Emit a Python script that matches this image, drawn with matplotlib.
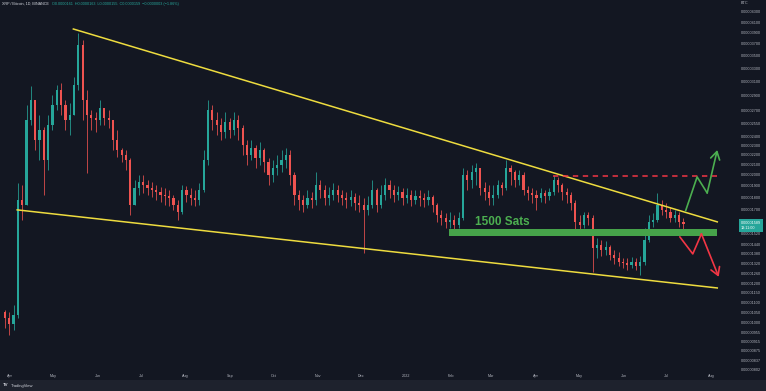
import numpy as np
import matplotlib
matplotlib.use("Agg")
import matplotlib.pyplot as plt
import matplotlib.dates as mdates
from matplotlib.ticker import FixedLocator, FixedFormatter, NullLocator
from matplotlib.patches import Rectangle

plt.rcParams['font.family'] = ['Liberation Sans', 'DejaVu Sans']

# ---------------- data (prices in satoshis, 3-day candles) ----------------
candle_start = "2021-03-27"
candle_days = 3
first_open = 1050
closes = [
    1021, 994, 1036, 1778, 1737, 2589, 2843, 2357, 2470, 2145,
    2528, 2777, 2980, 2777, 2589, 2650, 3051, 3681, 2843, 2650,
    2613, 2589, 2739, 2613, 2589, 2357, 2248, 2196, 2145, 1737,
    1882, 1935, 1908, 1882, 1864, 1846, 1820, 1812, 1795, 1737,
    1681, 1864, 1820, 1795, 1778, 1864, 2145, 2713, 2589, 2528,
    2447, 2565, 2470, 2589, 2493, 2302, 2196, 2270, 2165, 2248,
    2125, 1999, 2066, 2096, 2145, 2196, 1999, 1820, 1778, 1737,
    1795, 1778, 1908, 1864, 1795, 1820, 1864, 1820, 1795, 1778,
    1803, 1753, 1737, 1697, 1737, 1864, 1737, 1820, 1908, 1864,
    1820, 1846, 1795, 1820, 1778, 1812, 1795, 1778, 1803, 1737,
    1657, 1634, 1604, 1619, 1581, 1634, 1999, 1953, 2028, 2066,
    1882, 1846, 1795, 1820, 1908, 1882, 2066, 2028, 1953, 1999,
    1864, 1837, 1820, 1795, 1837, 1812, 1846, 1953, 1908, 1846,
    1820, 1753, 1604, 1581, 1657, 1634, 1419, 1439, 1406, 1426,
    1373, 1354, 1329, 1323, 1310, 1329, 1304, 1329, 1474, 1604,
    1619, 1737, 1697, 1681, 1634, 1657, 1604, 1589,
]
highs = [
    1061, 1051, 1086, 1926, 1908, 2777, 3037, 2777, 2650, 2505,
    2650, 2911, 3051, 3080, 2843, 2803, 3168, 3895, 3769, 2980,
    2713, 2688, 2843, 2739, 2713, 2528, 2470, 2270, 2248, 2165,
    1953, 1999, 1999, 1953, 1935, 1908, 1890, 1882, 1864, 1820,
    1778, 1908, 1899, 1882, 1864, 1926, 2248, 2843, 2777, 2688,
    2613, 2688, 2613, 2688, 2650, 2528, 2357, 2357, 2302, 2335,
    2270, 2165, 2145, 2196, 2248, 2270, 2248, 2028, 1864, 1820,
    1864, 1846, 2028, 1953, 1908, 1890, 1926, 1908, 1864, 1846,
    1864, 1837, 1820, 1795, 1812, 1953, 1882, 1908, 1971, 1953,
    1908, 1899, 1882, 1882, 1864, 1864, 1864, 1837, 1864, 1820,
    1753, 1697, 1673, 1681, 1657, 1681, 2066, 2047, 2096, 2116,
    2047, 1935, 1908, 1908, 1953, 1935, 2145, 2096, 2047, 2047,
    2028, 1899, 1882, 1864, 1882, 1864, 1882, 1999, 1981, 1926,
    1882, 1846, 1778, 1657, 1681, 1681, 1657, 1488, 1474, 1467,
    1439, 1406, 1393, 1354, 1354, 1361, 1354, 1367, 1559, 1657,
    1673, 1837, 1778, 1753, 1721, 1697, 1681, 1634,
]
lows = [
    975, 943, 966, 1021, 1619, 1737, 2528, 2248, 2145, 1820,
    2047, 2470, 2713, 2650, 2470, 2413, 2650, 2980, 2589, 2018,
    2470, 2447, 2528, 2528, 2493, 2248, 2176, 2125, 2047, 1657,
    1778, 1820, 1837, 1820, 1803, 1778, 1761, 1737, 1729, 1697,
    1619, 1665, 1761, 1737, 1729, 1737, 1846, 2096, 2470, 2413,
    2357, 2379, 2379, 2413, 2357, 2196, 2096, 2145, 2066, 2096,
    2028, 1908, 1935, 1999, 2028, 2066, 1908, 1737, 1697, 1681,
    1713, 1713, 1737, 1795, 1737, 1737, 1778, 1761, 1737, 1713,
    1729, 1697, 1681, 1386, 1657, 1713, 1681, 1713, 1778, 1795,
    1761, 1778, 1737, 1753, 1729, 1745, 1729, 1721, 1737, 1681,
    1604, 1581, 1559, 1559, 1544, 1559, 1619, 1864, 1882, 1908,
    1820, 1778, 1737, 1737, 1795, 1820, 1864, 1908, 1890, 1908,
    1820, 1778, 1753, 1697, 1761, 1753, 1778, 1820, 1846, 1778,
    1753, 1697, 1509, 1530, 1559, 1581, 1268, 1354, 1367, 1373,
    1342, 1316, 1304, 1292, 1280, 1292, 1280, 1250, 1310, 1460,
    1566, 1604, 1657, 1634, 1604, 1604, 1566, 1544,
]

month_ticks = ["2021-04-01", "2021-05-01", "2021-06-01", "2021-07-01", "2021-08-01",
               "2021-09-01", "2021-10-01", "2021-11-01", "2021-12-01", "2022-01-01",
               "2022-02-01", "2022-03-01", "2022-04-01", "2022-05-01", "2022-06-01",
               "2022-07-01", "2022-08-01"]
month_labels = ["Apr", "May", "Jun", "Jul", "Aug", "Sep", "Oct", "Nov", "Dec", "2022",
                "Feb", "Mar", "Apr", "May", "Jun", "Jul", "Aug"]
price_ticks = [4300, 4100, 3900, 3700, 3500, 3300, 3100, 2900, 2700, 2550, 2400, 2300,
               2200, 2100, 2000, 1900, 1800, 1700, 1520, 1440, 1380, 1320, 1260, 1200,
               1150, 1100, 1050, 1000, 955, 915, 875, 837, 802]

# drawings
upper_tl_dates = ["2021-05-15", "2022-08-05"]
upper_tl_sats = [3968, 1604]
lower_tl_dates = ["2021-04-06", "2022-08-05"]
lower_tl_sats = [1697, 1176]
resist_dates = ["2022-04-13", "2022-08-05"]
resist_sats = 1990
band_dates = ["2022-01-31", "2022-08-05"]
band_sats = [1502, 1551]
label_date = "2022-02-18"
label_sats = 1600
green_path_dates = ["2022-07-14", "2022-07-22", "2022-07-29", "2022-08-05"]
green_path_sats = [1689, 1981, 1837, 2248]
red_path_dates = ["2022-07-10", "2022-07-19", "2022-07-25", "2022-08-06"]
red_path_sats = [1495, 1380, 1516, 1239]

# ---------------- styling ----------------
BG = "#131722"
UP = "#26a69a"
DN = "#ef5350"
YEL = "#eedc3f"
TXT = "#b2b5be"
SAT = 1e-8
W, H = 766, 391


def dn(s):
    return mdates.date2num(np.array(s, dtype="datetime64[h]"))


c = np.asarray(closes, float) * SAT
o = np.r_[first_open, closes[:-1]].astype(float) * SAT
h = np.maximum(np.asarray(highs, float) * SAT, np.maximum(o, c))
l = np.minimum(np.asarray(lows, float) * SAT, np.minimum(o, c))
start = np.datetime64(candle_start)
dates = start + np.arange(len(closes)) * candle_days
x = mdates.date2num(dates.astype("datetime64[h]")) + candle_days / 2

fig = plt.figure(figsize=(W / 100, H / 100), dpi=100, facecolor=BG)
ax = fig.add_axes([0, (H - 370) / H, 736 / W, 370 / H])
ax.set_facecolor(BG)
ax.set_yscale("log")
ax.set_ylim(800e-8, 4547e-8)
ax.set_xlim(dn("2021-03-25T02"), dn("2022-08-18T00"))
for s in ax.spines.values():
    s.set_visible(False)

cols = np.where(c >= o, UP, DN)
ax.vlines(x, l, h, colors=cols, linewidth=0.55, zorder=2)
top = np.maximum(o, c)
bot = np.minimum(o, c)
top = np.maximum(top, bot * 1.003)
ax.bar(x, top - bot, bottom=bot, width=candle_days * 0.5, color=cols, linewidth=0, zorder=3)

# trend lines
ax.plot(dn(upper_tl_dates), np.array(upper_tl_sats) * SAT, color=YEL, lw=1.1, zorder=5)
ax.plot(dn(lower_tl_dates), np.array(lower_tl_sats) * SAT, color=YEL, lw=1.1, zorder=5)
ax.plot(dn(resist_dates), [resist_sats * SAT] * 2, color="#f23645", lw=1.1,
        dashes=(3.5, 3), zorder=5)
bx = dn(band_dates)
ax.fill_between(bx, [band_sats[0] * SAT] * 2, [band_sats[1] * SAT] * 2,
                color="#46a34a", lw=0, zorder=4)
ax.text(dn(label_date), label_sats * SAT, "1500 Sats", color="#4caf50",
        fontsize=8.5, fontweight="bold", ha="left", va="center", zorder=6,
        family=["Liberation Sans", "DejaVu Sans"])


def draw_path(ds, ss, color):
    xs = dn(ds)
    ys = np.array(ss) * SAT
    ax.plot(xs[:-1], ys[:-1], color=color, lw=1.2, zorder=6, solid_capstyle="round")
    ax.annotate("", xy=(xs[-1], ys[-1]), xytext=(xs[-2], ys[-2]),
                arrowprops=dict(arrowstyle="->,head_length=0.5,head_width=0.3",
                                color=color, lw=1.2, shrinkA=0, shrinkB=0,
                                mutation_scale=11), zorder=6)


draw_path(green_path_dates, green_path_sats, "#4caf50")
draw_path(red_path_dates, red_path_sats, "#f23645")

# axes ticks
ax.xaxis.set_major_locator(FixedLocator(dn(month_ticks)))
ax.xaxis.set_major_formatter(FixedFormatter(month_labels))
ax.xaxis.set_minor_locator(NullLocator())
ax.tick_params(axis="x", length=0, pad=3.0, labelsize=2.7, labelcolor=TXT)
ax.yaxis.tick_right()
ax.yaxis.set_major_locator(FixedLocator([v * SAT for v in price_ticks]))
ax.yaxis.set_major_formatter(FixedFormatter([f"{v * SAT:.8f}" for v in price_ticks]))
ax.yaxis.set_minor_locator(NullLocator())
ax.yaxis.set_minor_formatter(FixedFormatter([]))
ax.tick_params(axis="y", length=0, pad=3.6, labelsize=2.7, labelcolor=TXT)

# current price label
ax.annotate(f"{c[-1]:.8f}\n13:11:00", xy=(1, c[-1]), xycoords=ax.get_yaxis_transform(),
            xytext=(3.6, 2.2), textcoords="offset points", va="top", ha="left",
            fontsize=2.7, color="white", linespacing=1.4,
            bbox=dict(boxstyle="square,pad=0.45", fc=UP, ec="none"), zorder=10,
            annotation_clip=False)

# header
fig.text(2 / W, 1 - 4 / H, "XRP / Bitcoin, 1D, BINANCE", fontsize=2.7, color="#d1d4dc",
         va="center", ha="left")
fig.text(52 / W, 1 - 4 / H,
         "O0.0000161  H0.0000163  L0.0000155  C0.0000159  \u22120.0000003 (\u22121.86%)",
         fontsize=2.7, color=UP, va="center", ha="left")
fig.text(741 / W, 1 - 3.5 / H, "BTC", fontsize=2.7, color=TXT, va="center", ha="left")

# bottom strip
fig.add_artist(Rectangle((0, 0), 1, 11 / H, transform=fig.transFigure,
                         facecolor="#1e222d", edgecolor="none", zorder=0))
fig.text(3 / W, 5.5 / H, "TV", fontsize=3.2, fontweight="bold", color="#d1d4dc",
         va="center", ha="left")
fig.text(11 / W, 5.5 / H, "TradingView", fontsize=3.0, color="#d1d4dc",
         va="center", ha="left")

fig.savefig("out.png", dpi=100, facecolor=BG)
